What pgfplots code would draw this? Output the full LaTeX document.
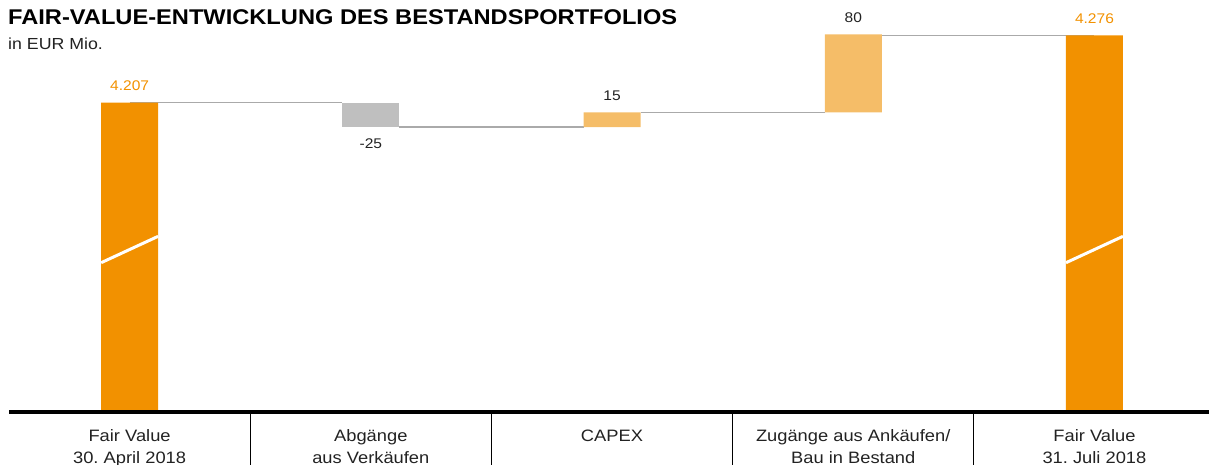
\documentclass[border=0pt]{standalone}
\usepackage{pgfplots}
\pgfplotsset{compat=1.18}
\usepackage{fontspec}
\setmainfont{Liberation Sans}[FakeStretch=1.11]
\frenchspacing
\definecolor{dorange}{HTML}{F29100}
\definecolor{lorange}{HTML}{F5BD68}
\definecolor{bgray}{HTML}{BFBFBF}
\definecolor{lgray}{HTML}{AAAAAA}
\definecolor{txt}{HTML}{222222}
\begin{document}
\begin{tikzpicture}
\useasboundingbox (0,0) rectangle (1209pt,465pt);
\node[anchor=base west, inner sep=0pt, font=\fontsize{21.3}{24}\selectfont\bfseries, text=black] at (8pt,440pt) {FAIR-VALUE-ENTWICKLUNG DES BESTANDSPORTFOLIOS};
\node[anchor=base west, inner sep=0pt, font=\fontsize{16}{18}\selectfont, text=txt] at (8pt,415pt) {in EUR Mio.};
\pgfplotsset{
  common/.style={
    at={(9pt,53pt)}, anchor=south west, scale only axis,
    width=1200pt, height=402pt,
    xmin=-0.5, xmax=4.475, ymin=3890, ymax=4302,
  }
}
% connector lines and value labels
\begin{axis}[common, hide axis]
\addplot[lgray, line width=1.5pt] coordinates {(0,4207) (0.882,4207)};
\addplot[lgray, line width=1.5pt] coordinates {(1.118,4182) (1.882,4182)};
\addplot[lgray, line width=1.5pt] coordinates {(2.118,4197) (2.882,4197)};
\addplot[lgray, line width=1.5pt] coordinates {(3.118,4276) (4,4276)};
\addplot[draw=none, mark=none, nodes near coords, point meta=explicit symbolic,
  nodes near coords style={anchor=center, yshift=17pt, font=\fontsize{14}{16}\selectfont, text=txt}]
  coordinates {(2,4197)[15] (3,4277)[80]};
\addplot[draw=none, mark=none, nodes near coords, point meta=explicit symbolic,
  nodes near coords style={anchor=center, yshift=17pt, font=\fontsize{14}{16}\selectfont, text=dorange}]
  coordinates {(0,4207)[4.207] (4,4276)[4.276]};
\addplot[draw=none, mark=none, nodes near coords, point meta=explicit symbolic,
  nodes near coords style={anchor=center, yshift=-17pt, font=\fontsize{14}{16}\selectfont, text=txt}]
  coordinates {(1,4182)[-25]};
\end{axis}
% bars
\begin{axis}[common, ybar stacked, bar width=57pt,
  axis on top,
  axis x line=bottom, axis y line=none,
  axis line style={black, line width=4pt, -},
  xtick={0,1,2,3,4},
  xticklabels={{Fair Value\\30. April 2018},{Abgänge\\aus Verkäufen},{CAPEX},{Zugänge aus Ankäufen/\\Bau in Bestand},{Fair Value\\31. Juli 2018}},
  major tick length=0pt,
  xticklabel style={anchor=north, yshift=-14pt, align=center, font=\fontsize{16.5}{22.5}\selectfont, text=txt},
  extra x ticks={0.5,1.5,2.5,3.5},
  extra x tick labels={},
  extra x tick style={major tick length=60pt, tick align=outside, tick style={black, line width=0.9pt}},
  ]
\addplot[draw=none, fill=none] coordinates {(0,0) (1,4182) (2,4182) (3,4197) (4,0)};
\addplot[draw=none, fill=dorange] coordinates {(0,4207) (1,0) (2,0) (3,0) (4,4276)};
\addplot[draw=none, fill=bgray] coordinates {(0,0) (1,25) (2,0) (3,0) (4,0)};
\addplot[draw=none, fill=lorange] coordinates {(0,0) (1,0) (2,15) (3,80) (4,0)};
\end{axis}
\begin{axis}[common, hide axis]
\addplot[white, line width=3pt] coordinates {(-0.118,4043) (0.118,4070)};
\addplot[white, line width=3pt] coordinates {(3.882,4043) (4.118,4070)};
\end{axis}
\end{tikzpicture}
\end{document}
